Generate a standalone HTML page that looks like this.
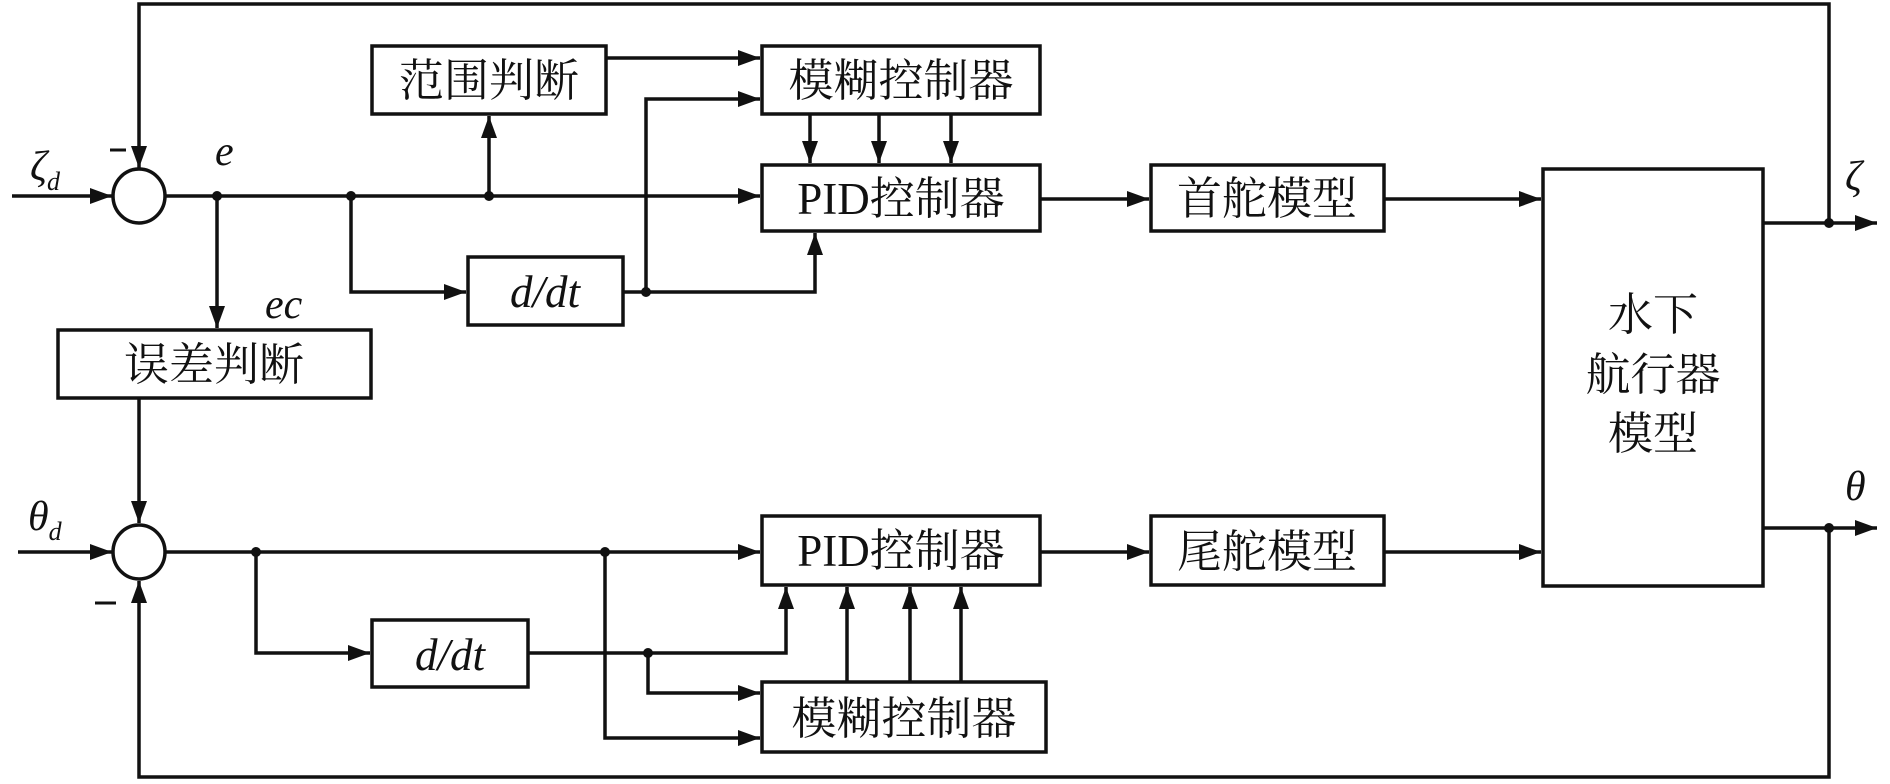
<!DOCTYPE html>
<html><head><meta charset="utf-8"><style>
html,body{margin:0;padding:0;background:#fff}
svg{display:block}
text{font-family:"Liberation Serif","Noto Serif CJK SC",serif;fill:#111}
.b{font-size:45px}
</style></head><body>
<svg width="1890" height="784" viewBox="0 0 1890 784" xmlns="http://www.w3.org/2000/svg">
<defs>
<marker id="a" markerUnits="userSpaceOnUse" markerWidth="24" markerHeight="18" refX="22" refY="8" orient="auto">
<path d="M0,0 L22,8 L0,16 Z" fill="#111"/></marker>
</defs>
<g stroke="#111" stroke-width="3.5" fill="none">
<!-- boxes -->
<rect x="372" y="46" width="234" height="68"/>
<rect x="762" y="46" width="278" height="68"/>
<rect x="762" y="165" width="278" height="66"/>
<rect x="468" y="257" width="155" height="68"/>
<rect x="58" y="330" width="313" height="68"/>
<rect x="1151" y="165" width="233" height="66"/>
<rect x="1543" y="169" width="220" height="417"/>
<rect x="762" y="516" width="278" height="69"/>
<rect x="1151" y="516" width="233" height="69"/>
<rect x="372" y="620" width="156" height="67"/>
<rect x="762" y="682" width="284" height="70"/>
<ellipse cx="139" cy="196" rx="26" ry="27"/>
<ellipse cx="139" cy="552" rx="26" ry="27"/>
</g>
<g stroke="#111" stroke-width="3.5" fill="none" marker-end="url(#a)">
<!-- top loop -->
<path d="M12,196 H112"/>
<path d="M1829,223 V4 H139 V168"/>
<path d="M165,196 H760"/>
<path d="M489,196 V116"/>
<path d="M217,196 V328"/>
<path d="M351,196 V292 H466"/>
<path d="M606,58 H760"/>
<path d="M623,292 H815 V233"/>
<path d="M646,292 V99 H760"/>
<path d="M810,114 V163"/>
<path d="M879,114 V163"/>
<path d="M951,114 V163"/>
<path d="M1040,199 H1149"/>
<path d="M1384,199 H1541"/>
<path d="M1763,223 H1877"/>
<!-- bottom loop -->
<path d="M139,398 V523"/>
<path d="M18,552 H112"/>
<path d="M1763,528 H1877"/>
<path d="M1829,528 V777 H139 V581"/>
<path d="M165,552 H760"/>
<path d="M256,552 V653 H370"/>
<path d="M528,653 H786 V587"/>
<path d="M648,653 V693 H760"/>
<path d="M605,552 V738 H760"/>
<path d="M847,682 V587"/>
<path d="M910,682 V587"/>
<path d="M961,682 V587"/>
<path d="M1040,552 H1149"/>
<path d="M1384,552 H1541"/>
</g>
<g fill="#111">
<circle cx="217" cy="196" r="5"/><circle cx="351" cy="196" r="5"/><circle cx="489" cy="196" r="5"/>
<circle cx="646" cy="292" r="5"/><circle cx="1829" cy="223" r="5"/><circle cx="1829" cy="528" r="5"/>
<circle cx="256" cy="552" r="5"/><circle cx="605" cy="552" r="5"/><circle cx="648" cy="653" r="5"/>
</g>
<g stroke="#111" stroke-width="3">
<line x1="110" y1="150" x2="126" y2="150"/>
<line x1="95" y1="603" x2="116" y2="603"/>
</g>
<g class="b">
<text x="489" y="96" text-anchor="middle">范围判断</text>
<text x="901" y="96" text-anchor="middle">模糊控制器</text>
<text x="901" y="214" text-anchor="middle">PID控制器</text>
<text x="545" y="307" text-anchor="middle" font-style="italic">d/dt</text>
<text x="214" y="380" text-anchor="middle">误差判断</text>
<text x="1267" y="214" text-anchor="middle">首舵模型</text>
<text x="1653" y="330" text-anchor="middle">水下</text>
<text x="1653" y="390" text-anchor="middle">航行器</text>
<text x="1653" y="449" text-anchor="middle">模型</text>
<text x="901" y="566" text-anchor="middle">PID控制器</text>
<text x="1267" y="567" text-anchor="middle">尾舵模型</text>
<text x="450" y="670" text-anchor="middle" font-style="italic">d/dt</text>
<text x="904" y="734" text-anchor="middle">模糊控制器</text>
</g>
<g font-style="italic" font-size="42">
<text x="30" y="180">ζ<tspan font-size="26" dy="10">d</tspan></text>
<text x="215" y="165">e</text>
<text x="265" y="318">ec</text>
<text x="28" y="530">θ<tspan font-size="26" dy="10">d</tspan></text>
<text x="1845" y="190">ζ</text>
<text x="1845" y="500">θ</text>
</g>
</svg>
</body></html>
